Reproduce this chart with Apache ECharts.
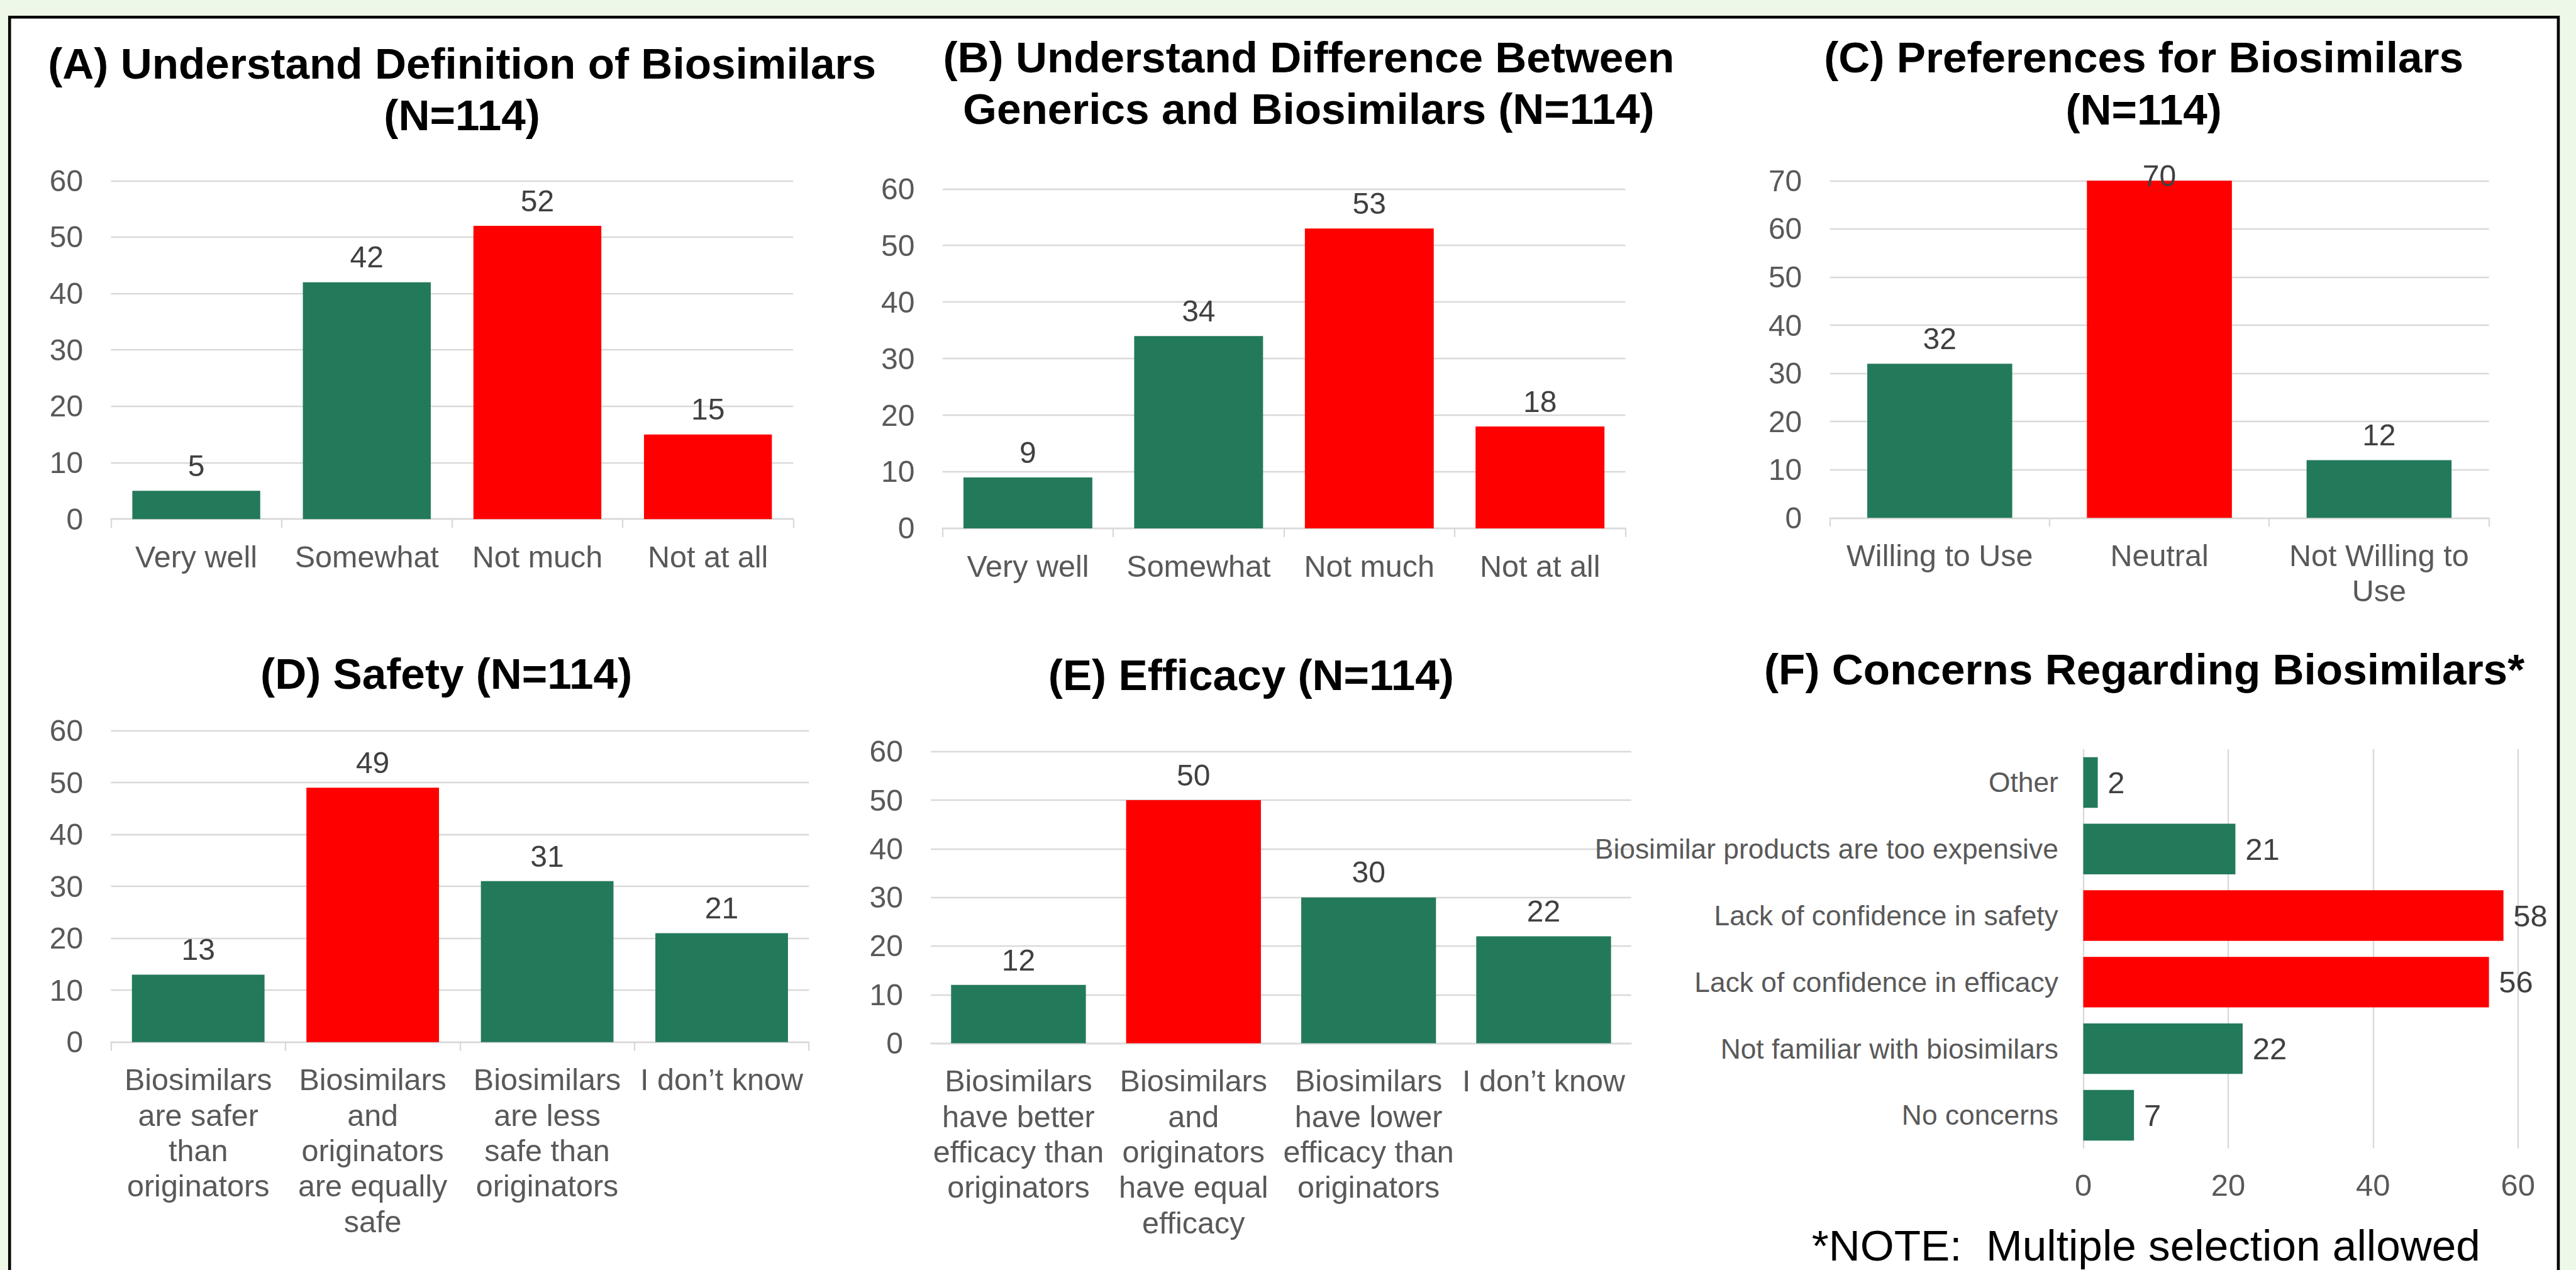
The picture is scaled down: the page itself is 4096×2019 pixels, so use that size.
<!DOCTYPE html>
<html>
<head>
<meta charset="utf-8">
<title>Biosimilars survey</title>
<script src="https://cdn.jsdelivr.net/npm/echarts@6/dist/echarts.min.js"></script>
<style>
  html, body { margin: 0; padding: 0; background: #EEF8E8; }
  #chart { width: 4096px; height: 2019px; }
</style>
</head>
<body>
<div id="chart"></div>
<script>
// ---- survey data (N = 114) ----
const understandCats = ['Very well', 'Somewhat', 'Not much', 'Not at all'];
const definitionCounts = [5, 42, 52, 15];
const differenceCounts = [9, 34, 53, 18];

const preferenceCats = ['Willing to Use', 'Neutral', 'Not Willing to\nUse'];
const preferenceCounts = [32, 70, 12];

const safetyCats = [
  'Biosimilars\nare safer\nthan\noriginators',
  'Biosimilars\nand\noriginators\nare equally\nsafe',
  'Biosimilars\nare less\nsafe than\noriginators',
  'I don\u2019t know'
];
const safetyCounts = [13, 49, 31, 21];

const efficacyCats = [
  'Biosimilars\nhave better\nefficacy than\noriginators',
  'Biosimilars\nand\noriginators\nhave equal\nefficacy',
  'Biosimilars\nhave lower\nefficacy than\noriginators',
  'I don\u2019t know'
];
const efficacyCounts = [12, 50, 30, 22];

const concernCats = [
  'Other',
  'Biosimilar products are too expensive',
  'Lack of confidence in safety',
  'Lack of confidence in efficacy',
  'Not familiar with biosimilars',
  'No concerns'
];
const concernCounts = [2, 21, 58, 56, 22, 7];

// value-axis ranges
const countAxis60 = { min: 0, max: 60, step: 10 };
const countAxis70 = { min: 0, max: 70, step: 10 };
const concernAxis = { min: 0, max: 60, step: 20 };

// ---- styling ----
const S = 0.924;                 // layout below is written at full poster scale
const px = v => v * S;
const GREEN = '#237A5A';
const RED = '#FF0000';
const FONT = '"Liberation Sans", Arial, Helvetica, sans-serif';
const GRID_COLOR = '#D9D9D9';
const AXIS_TEXT = '#595959';
const LABEL_TEXT = '#404040';

const definitionColors = [GREEN, GREEN, RED, RED];
const differenceColors = [GREEN, GREEN, RED, RED];
const preferenceColors = [GREEN, RED, GREEN];
const safetyColors = [GREEN, RED, GREEN, GREEN];
const efficacyColors = [GREEN, RED, GREEN, GREEN];
const concernColors = [GREEN, GREEN, RED, RED, GREEN, GREEN];

// plot rectangles (left, top, right, bottom)
const boxes = [
  [191, 311, 1365, 893],    // A
  [1622, 325, 2797, 909],   // B
  [3149, 311, 4283, 891],   // C
  [191, 1257, 1392, 1793],  // D
  [1602, 1293, 2807, 1795], // E
  [3585, 1289, 4333, 1976]  // F
];

const grids = boxes.map(b => ({
  left: px(b[0]), top: px(b[1]),
  width: px(b[2] - b[0]), height: px(b[3] - b[1]),
  containLabel: false
}));

function categoryAxis(idx, cats, withTicks) {
  return {
    type: 'category', gridIndex: idx, data: cats,
    axisLine: { show: true, lineStyle: { color: GRID_COLOR, width: px(2.5) } },
    axisTick: { show: withTicks, length: px(15), lineStyle: { color: GRID_COLOR, width: px(2.5) } },
    axisLabel: {
      interval: 0, margin: px(34), color: AXIS_TEXT,
      fontFamily: FONT, fontSize: px(52.5), lineHeight: px(61)
    },
    splitLine: { show: false }
  };
}

function valueAxis(idx, range) {
  return {
    type: 'value', gridIndex: idx,
    min: range.min, max: range.max, interval: range.step,
    axisLine: { show: false }, axisTick: { show: false },
    axisLabel: { margin: px(48), color: AXIS_TEXT, fontFamily: FONT, fontSize: px(52) },
    splitLine: { lineStyle: { color: GRID_COLOR, width: px(2.5) } }
  };
}

function columnSeries(idx, values, colors, gap, overrides) {
  return {
    type: 'bar', xAxisIndex: idx, yAxisIndex: idx,
    barCategoryGap: gap,
    data: values.map((v, i) => {
      const item = { value: v, itemStyle: { color: colors[i] } };
      if (overrides && overrides[i]) item.label = overrides[i];
      return item;
    }),
    label: {
      show: true, position: 'top', distance: px(17),
      color: LABEL_TEXT, fontFamily: FONT, fontSize: px(52), lineHeight: px(52)
    }
  };
}

const xAxes = [
  categoryAxis(0, understandCats, true),
  categoryAxis(1, understandCats, true),
  categoryAxis(2, preferenceCats, true),
  categoryAxis(3, safetyCats, true),
  categoryAxis(4, efficacyCats, false),
  {
    type: 'value', gridIndex: 5,
    min: concernAxis.min, max: concernAxis.max, interval: concernAxis.step,
    axisLine: { show: false }, axisTick: { show: false },
    axisLabel: { margin: px(36), color: AXIS_TEXT, fontFamily: FONT, fontSize: px(53) },
    splitLine: { lineStyle: { color: GRID_COLOR, width: px(2.5) } }
  }
];

const yAxes = [
  valueAxis(0, countAxis60),
  valueAxis(1, countAxis60),
  valueAxis(2, countAxis70),
  valueAxis(3, countAxis60),
  valueAxis(4, countAxis60),
  {
    type: 'category', gridIndex: 5, data: concernCats, inverse: true,
    axisLine: { show: false }, axisTick: { show: false },
    axisLabel: { interval: 0, margin: px(43), color: AXIS_TEXT, fontFamily: FONT, fontSize: px(48) },
    splitLine: { show: false }
  }
];

const series = [
  columnSeries(0, definitionCounts, definitionColors, '25%'),
  columnSeries(1, differenceCounts, differenceColors, '24.5%'),
  // the tallest column reaches the top of its plot, so its label sits on the bar edge
  columnSeries(2, preferenceCounts, preferenceColors, '34%', { 1: { position: 'top', distance: -px(18) } }),
  columnSeries(3, safetyCounts, safetyColors, '24%'),
  columnSeries(4, efficacyCounts, efficacyColors, '23%'),
  {
    type: 'bar', xAxisIndex: 5, yAxisIndex: 5,
    barCategoryGap: '24%',
    data: concernCounts.map((v, i) => ({ value: v, itemStyle: { color: concernColors[i] } })),
    label: {
      show: true, position: 'right', distance: px(17),
      color: LABEL_TEXT, fontFamily: FONT, fontSize: px(53)
    }
  }
];

function heading(text, cx, cy, size, bold, lineH) {
  return {
    type: 'text', z: 10,
    x: px(cx), y: px(cy),
    style: {
      text: text, fill: '#000000',
      font: (bold ? 'bold ' : '') + px(size) + 'px ' + FONT,
      align: 'center', verticalAlign: 'middle',
      lineHeight: px(lineH)
    }
  };
}

const graphics = [
  {
    type: 'rect', z: -100, silent: true,
    shape: { x: px(16.5), y: px(29.5), width: px(4386), height: px(2250) },
    style: { fill: '#FFFFFF', stroke: '#000000', lineWidth: px(5) }
  },
  heading('(A) Understand Definition of Biosimilars\n(N=114)', 795, 153.5, 75, true, 89),
  heading('(B) Understand Difference Between\nGenerics and Biosimilars (N=114)', 2252, 143, 75, true, 89),
  heading('(C) Preferences for Biosimilars\n(N=114)', 3689, 143.5, 75, true, 89),
  heading('(D) Safety (N=114)', 768, 1159, 75, true, 80),
  heading('(E) Efficacy (N=114)', 2153, 1161, 75, true, 80),
  heading('(F) Concerns Regarding Biosimilars*', 3690, 1152, 75, true, 80),
  heading('*NOTE:  Multiple selection allowed', 3693, 2143, 75, false, 72)
];

const chart = echarts.init(document.getElementById('chart'), null, { renderer: 'svg', width: 4096, height: 2019 });
chart.setOption({
  backgroundColor: '#EEF8E8',
  animation: false,
  grid: grids,
  xAxis: xAxes,
  yAxis: yAxes,
  series: series,
  graphic: graphics
});
</script>
</body>
</html>
